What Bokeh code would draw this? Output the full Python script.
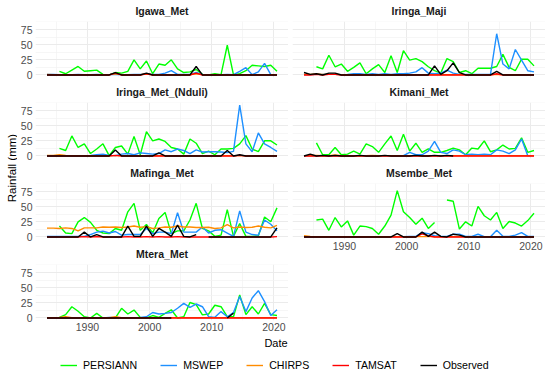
import math
import numpy as np
import pandas as pd
from bokeh.plotting import figure
from bokeh.layouts import row, column
from bokeh.models import (Range1d, FixedTicker, DatetimeAxis, LinearAxis, DatetimeTickFormatter,
                          Legend, LegendItem, Label, ColumnDataSource)
from bokeh.embed import file_html
from bokeh.resources import INLINE

nan = float("nan")
years = list(range(1983, 2021))
products = ["PERSIANN", "MSWEP", "CHIRPS", "TAMSAT", "Observed"]
product_colors = ["#00FF00", "#1E90FF", "#FF8C00", "#FF0000", "#000000"]
x_tick_years = [1990, 2000, 2010, 2020]
x_minor_years = [1985, 1995, 2005, 2015]
y_ticks = [0, 25, 50, 75]
y_minor = [12.5, 37.5, 62.5, 87.5]

# ---- Igawa_Met ----
igawa_persiann = [nan, nan, 6, 2, 8, 14, 6,
                  7, 8, 1, 0, 4, 3, 6, 25, 10, 23,
                  2, 18, 16, 25, 10, 4, 5, 9, 1, 0,
                  2, 0.5, 49, 0, 2, 7, 16, 15, 14, 16, 6]
igawa_mswep = [1, 1, 0.5, 0.5, 0.5, 1, 0.5,
               0.5, 1, 0.5, 0.5, 1, 0.5, 0.5, 1, 1, 1,
               1, 1, 3, 7, 1, 1, 1, 4, 1, 0.5,
               0.5, 0.5, 1, 0.5, 6, 12, 0.5, 5, 19, 0.5, 0.5]
igawa_chirps = [1, 0.5, 0.5, 0.5, 0.5, 0.5, 0.5,
                0.5, 0.5, 0.5, 0.5, 2, 0.5, 0.5, 0.5, 0.5, 1.5,
                0.5, 0.5, 0.5, 0.5, 0.5, 0.5, 0.5, 2, 0.5, 0.5,
                0.5, 0.5, 0.5, 0.5, 0.5, 0.5, 0.5, 0.5, 0.5, 0.5, 0.5]
igawa_tamsat = [0, 0, 0, 0, 0, 0, 0,
                0, 0, 0, 0, 3, 0, 0, 0, 0, 2,
                0, 0, 0, 0, 0, 0, 0, 3, 0, 0,
                0, 0, 0, 0, 0, 0, 0, 0, 0, 0, 0]
igawa_observed = [0, 0, 0, 0, 0, 0, 0,
                  0, 0, 0, 0, 4, 0, 0, 0, 0, 3,
                  0, 0, 0, 0, 0, 0, 0, 14, 0, 0,
                  0, 0, 0, 0, 0, 0, 0, 0, 0, 0, 0]

# ---- Iringa_Maji ----
maji_persiann = [nan, nan, 13.5, 10, 32.5, 13.5, 18,
                 6, 12.5, 20, 2, 10, 17, 4, 31.5, 4, 40,
                 24.5, 27, 22, 13.5, 7, 3, 27, 22, 4, 7,
                 2, 11, 11, 11, 14, 34, 12.5, 7, 26, 26, 15]
maji_mswep = [0.5, 0.5, 1, 1, 1, 1, 0.5,
              1, 2, 2, 1, 2, 1, 2, 1, 2, 2,
              3, 5, 12, 3, 2, 3, 8, 3, 1, 1,
              1, 1, 1, 1, 68, 18, 10, 42, 24.5, 7, 5]
maji_chirps = [1, 1, 1.5, 1, 1, 1, 0.5,
               0.5, 0.5, 0.5, 0.5, 0.5, 0.5, 0.5, 0.5, 0.5, 0.5,
               0.5, 0.5, 0.5, 0.5, 0.5, 0.5, 0.5, 0.5, 0.5, 0.5,
               0.5, 0.5, 0.5, 0.5, 0.5, 0.5, 0.5, 0.5, 0.5, 0.5, 0.5]
maji_tamsat = [0, 0, 1, 0, 1, 1, 0,
               0, 0, 0, 0, 0, 0, 0, 0, 0, 0,
               0, 0, 0, 0, 0, 0, 0, 0, 0, 0,
               0, 0, 0, 0, 2, 0, 0, 0, 0, 0, 0]
maji_observed = [4, 1, 2, 0, 3, 3, 0,
                 0, 0, 0, 0, 0, 0, 0, 0, 0, 0,
                 0, 0, 0, 0, 15, 1, 7, 20, 4, 0,
                 0, 0, 0, 0, 6, 0, 0, 0, 0, 0, 0]

# ---- Iringa_Met_(Nduli) ----
nduli_persiann = [nan, nan, 12.5, 9, 33, 14, 20,
                  4, 11.5, 20, 0.5, 14, 16.5, 3, 32, 2, 40,
                  25, 28, 24, 14, 11.5, 3, 28, 21, 4, 8,
                  2, 11.5, 11.5, 12.5, 20, 33.5, 11.5, 7, 25, 25, 18]
nduli_mswep = [0.5, 0.5, 0.5, 0.5, 0.5, 0.5, 0.5,
               1, 2, 3, 1, 0.5, 3, 4, 2, 5, 4,
               3, 4, 10, 7, 11.5, 9, 4, 10, 6.5, 7,
               7, 6.5, 5.5, 7.5, 84, 20, 7, 38, 20, 14, 7.5]
nduli_chirps = [1, 1, 2, 1, 0.5, 0.5, 0.5,
                0.5, 0.5, 0.5, 0.5, 0.5, 0.5, 0.5, 0.5, 0.5, 0.5,
                0.5, 0.5, 0.5, 0.5, 0.5, 0.5, 0.5, 0.5, 0.5, 0.5,
                0.5, 0.5, 0.5, 0.5, 0.5, 0.5, 0.5, 0.5, 0.5, 0.5, 0.5]
nduli_tamsat = [0, 0, 0, 0, 0, 0, 0,
                0, 0, 0, 0, 1, 0, 0, 0, 0, 0,
                0, 0, 0, 0, 0, 0, 0, 0, 0, 0,
                0, 0, 0, 0, 1, 0, 0, 0, 0, 0, 0]
nduli_observed = [0, 0, 0, 0, 0, 0, 0,
                  0, 0, 0, 0, 10, 0, 0, 0, 0, 0,
                  0, 5, 0, 0, 0, 0, 0, 0, 0, 0,
                  0, 0, 9, 0, 2, 0, 0, 0, 0, 0, 0]

# ---- Kimani_Met ----
kimani_persiann = [nan, nan, 21.5, 2, 2, 14, 2,
                   3, 8, 3, 20, 15.5, 6, 20, 33, 9, 36,
                   8, 21, 6, 11.5, 6, 6, 9, 13, 10, 2,
                   13, 11.5, 25, 7, 10, 18, 11.5, 12.5, 30, 6, 9]
kimani_mswep = [0.5, 0.5, 0.5, 0.5, 0.5, 0.5, 0.5,
                0.5, 0.5, 0.5, 0.5, 0.5, 0.5, 0.5, 0.5, 0.5, 0.5,
                6, 2, 2, 8, 24, 6, 4, 10, 8, 2,
                3, 2, 3, 2, 10, 8, 4, 10, 28, 0.5, 0.5]
kimani_chirps = [0.5, 0.5, 1, 0.5, 0.5, 1.5, 0.5,
                 0.5, 0.5, 0.5, 0.5, 1, 0.5, 0.5, 0.5, 0.5, 0.5,
                 0.5, 0.5, 0.5, 0.5, 0.5, 0.5, 0.5, 0.5, 0.5, 0.5,
                 0.5, 0.5, 0.5, 0.5, 0.5, 0.5, 0.5, 0.5, 0.5, 0.5, 0.5]
kimani_tamsat = [0, 0, 0, 0, 0, 0, 0,
                 0, 0, 0, 0, 0, 0, 0, 0, 0, 0,
                 0, 0, 0, 0, 0, 0, 0, 0, 0, 0,
                 0, 0, 0, 0, 0, 0, 0, 0, 0, 0, 0]
kimani_observed = [0, 3, 0, 1, 0, 1, 0,
                   0, 0, 1, 0, 0, 0, 1, 0, 0, 0,
                   0, 1, 0, 0, 1, 0, 1, 0, nan, nan,
                   nan, nan, nan, nan, nan, nan, nan, nan, nan, nan, nan]

# ---- Mafinga_Met ----
mafinga_persiann = [nan, nan, 18, 6.5, 5.5, 25, 32,
                    24, 11, 6.5, 5.5, 14, 11, 41.5, 55.5, 11, 20.5,
                    6.5, 30.5, 40.5, 5.5, 10, 10, 28, 55.5, 14, 10,
                    1, 3, 45, 1, 22, 1, 1, 2, 33, 25, 48]
mafinga_mswep = [1, 1, 1, 1, 1, 1, 1,
                 4, 8, 9.5, 6.5, 9, 3, 4, 4, 4, 14,
                 5.5, 8, 8, 5.5, 40, 8, 8, 8, 16.5, 6.5,
                 11, 12, 6.5, 1, 43, 8, 4, 3, 28, 21, 10]
mafinga_chirps = [14.5, 14.5, 14, 15, 14, 10, 15,
                  15, 15, 16.5, 16, 16.5, 15.5, 16.5, 18, 16, 17,
                  14, 15, 16.5, 16, 18, 16.5, 16.5, 15.5, 15.5, 16,
                  14, 15, 20.5, 15, 16.5, 15.5, 16, 18, 16, 15, 19]
mafinga_tamsat = [0, 0, 0, 0, 0, 0, 0.5,
                  0, 0.5, 0, 0, 0, 0, 0.5, 0, 0, 0.5,
                  0, 0.5, 0, 0, 0.5, 0, 0, 0, 0, 0,
                  0, 0, 0, 0, 0, 0, 0, 0, 0, 0, 0.5]
mafinga_observed = [0, 0, 0, 0, 0, 0, 8,
                    0, 4, 0, 0, 0, 0, 18, 1, 1, 18,
                    1, 14, 8, 1, 19.5, 1, 0, 4, nan, 0,
                    0, 0, 0, 0, 0, 0, 0, 0, 0, 0, 15]

# ---- Msembe_Met ----
msembe_persiann = [nan, nan, 28, 29.5, 11, 32, 16.5,
                   26.5, 3, 18, 17, 14, 4.5, 18, 36, 76.5, 41.5,
                   32, 21, 31, 14, 24, nan, 61, 59, 13, 25,
                   18, 50.5, 35, 28, 40.5, 14, 25.5, 23, 18, 27, 39]
msembe_mswep = [0.5, 0.5, 0.5, 0.5, 0.5, 0.5, 0.5,
                0.5, 0.5, 0.5, 0.5, 0.5, 0.5, 0.5, 0.5, 0.5, 0.5,
                1, 1, 7, 5.5, 2, 1, 1, 4.5, 4.5, 1,
                1, 4.5, 0.5, 0.5, 11, 1, 1, 3, 7, 1, 1]
msembe_chirps = [2, 1, 0.5, 0.5, 0.5, 0.5, 0.5,
                 0.5, 0.5, 0.5, 0.5, 0.5, 0.5, 0.5, 0.5, 0.5, 0.5,
                 0.5, 0.5, 0.5, 0.5, 0.5, 0.5, 0.5, 0.5, 0.5, 0.5,
                 0.5, 0.5, 0.5, 0.5, 0.5, 0.5, 0.5, 0.5, 0.5, 0.5, 0.5]
msembe_tamsat = [0, 0, 0, 0, 0, 0, 0,
                 0, 0, 0, 0, 0, 0, 0, 0, 0, 0,
                 0, 0, 5, 2, 0, 0, 0, 0, 0, 0,
                 0, 0, 0, 0, 0, 0, 0, 0, 0, 0, 0]
msembe_observed = [0, 0, 0, 0, 0, 0, 0,
                   0, 0, 0, 0, 0, 0, 0, 0, 5.5, 0,
                   0, 0, 8, 1, 8, 1, 0, 4.5, 3, 0,
                   0, 0, 0, 0, 0, 0, 0, 0, 0, 0, 0]

# ---- Mtera_Met ----
mtera_persiann = [nan, nan, 1, 5.5, 18.5, 11, 2,
                  0, 7.5, 0, 0, 0, 16, 6.5, 13, 1, 0,
                  4, 1, 7.5, 13.5, 0, 2, 25.5, 22, 5, 6.5,
                  21, 18.5, 2, 2, 38, 5.5, 18.5, 6.5, 24, 5.5, 4]
mtera_mswep = [0, 0, 0, 0, 0, 0, 0,
               0, 0, 0, 1, 0.5, 0.5, 0.5, 0.5, 1, 2,
               9, 6.5, 7.5, 9, 16, 24, 17.5, 23, 18.5, 2,
               1, 10.5, 2, 9, 35.5, 10.5, 33, 45, 27, 4, 13.5]
mtera_chirps = [0.5, 0.5, 1, 2, 0.5, 0.5, 0.5,
                0.5, 0.5, 0.5, 0.5, 2, 0.5, 0.5, 0.5, 0.5, 0.5,
                0.5, 0.5, 0.5, 0.5, 0.5, 0.5, 0.5, 0.5, 0.5, 0.5,
                0.5, 0.5, 0.5, 0.5, 0.5, 0.5, 0.5, 0.5, 0.5, 0.5, 0.5]
mtera_tamsat = [0, 0, 0, 0, 0, 0, 0,
                0, 0, 0, 0, 0, 0, 0, 0, 0, 0,
                0, 0, 0, 0, 0, 0, 0, 0, 0, 0,
                0, 0, 0, 0, 0, 0, 0, 0, 0, 0, 0]
mtera_observed = [0, 0, 0, 0, 0, 0, 0,
                  0, 0, 0, 0, 0, 0, 0, 0, 0, 0,
                  0, 0, 0, 0, nan, nan, nan, nan, nan, nan,
                  nan, nan, 0, 8, nan, nan, nan, nan, nan, nan, nan]

stations = {
    "Igawa_Met": [igawa_persiann, igawa_mswep, igawa_chirps, igawa_tamsat, igawa_observed],
    "Iringa_Maji": [maji_persiann, maji_mswep, maji_chirps, maji_tamsat, maji_observed],
    "Iringa_Met_(Nduli)": [nduli_persiann, nduli_mswep, nduli_chirps, nduli_tamsat, nduli_observed],
    "Kimani_Met": [kimani_persiann, kimani_mswep, kimani_chirps, kimani_tamsat, kimani_observed],
    "Mafinga_Met": [mafinga_persiann, mafinga_mswep, mafinga_chirps, mafinga_tamsat, mafinga_observed],
    "Msembe_Met": [msembe_persiann, msembe_mswep, msembe_chirps, msembe_tamsat, msembe_observed],
    "Mtera_Met": [mtera_persiann, mtera_mswep, mtera_chirps, mtera_tamsat, mtera_observed],
}

FONT = "Liberation Sans"
dates = pd.to_datetime([f"{y}-07-01" for y in years])
span = dates[-1] - dates[0]
x0 = (dates[0] - 0.05 * span).to_pydatetime()
x1 = (dates[-1] + 0.05 * span).to_pydatetime()
ymax = max(v for s in stations.values() for ser in s for v in ser if not math.isnan(v))
y0, y1 = -0.05 * ymax, 1.05 * ymax


def ms(y):
    return pd.Timestamp(f"{y}-01-01").value / 1e6


xticker = FixedTicker(ticks=[ms(y) for y in x_tick_years], minor_ticks=[ms(y) for y in x_minor_years])
yticker = FixedTicker(ticks=y_ticks, minor_ticks=y_minor)


def style_axis(ax, standoff):
    ax.axis_line_color = None
    ax.major_tick_line_color = None
    ax.minor_tick_line_color = None
    ax.major_tick_out = 0
    ax.major_tick_in = 0
    ax.minor_tick_out = 0
    ax.minor_tick_in = 0
    ax.major_label_standoff = standoff
    ax.major_label_text_font = FONT
    ax.major_label_text_font_size = "10.5px"
    ax.major_label_text_color = "#4D4D4D"


def panel(name, width, height, lb, tb, bb, yaxis=False, xaxis=False):
    p = figure(width=width, height=height, x_axis_type="datetime",
               x_range=Range1d(x0, x1), y_range=Range1d(y0, y1),
               x_axis_location=None, y_axis_location=None,
               output_backend="svg", toolbar_location=None,
               min_border_left=lb, min_border_right=0, min_border_top=tb, min_border_bottom=bb,
               background_fill_color="white", border_fill_color="white", outline_line_color=None)
    p.title.text = name
    p.title.align = "center"
    p.title.vertical_align = "top"
    p.title.text_font = FONT
    p.title.text_font_size = "10.5px"
    p.title.text_font_style = "bold"
    p.title.text_color = "#1A1A1A"
    p.title.standoff = 6
    p.xgrid.ticker = xticker
    p.ygrid.ticker = yticker
    for g in p.grid:
        g.grid_line_color = "#EBEBEB"
        g.grid_line_width = 1
        g.minor_grid_line_color = "#F2F2F2"
        g.minor_grid_line_width = 0.7
    if yaxis:
        ax = LinearAxis(ticker=yticker)
        style_axis(ax, 3)
        p.add_layout(ax, "left")
    if xaxis:
        ax = DatetimeAxis(ticker=xticker, formatter=DatetimeTickFormatter(years="%Y", months="%Y", days="%Y"))
        style_axis(ax, 2)
        p.add_layout(ax, "below")
    for prod, col, vals in zip(products, product_colors, stations[name]):
        src = ColumnDataSource(dict(date=dates, value=np.array(vals, dtype=float)))
        p.line("date", "value", source=src, line_color=col, line_width=1.4)
    return p


LW, RW = 271, 257
igawa = panel("Igawa_Met", LW, 81, 17, 21, 4, yaxis=True)
nduli = panel("Iringa_Met_(Nduli)", LW, 81, 17, 21, 4, yaxis=True)
mafinga = panel("Mafinga_Met", LW, 81, 17, 21, 4, yaxis=True)
mtera = panel("Mtera_Met", LW, 93, 17, 21, 16, yaxis=True, xaxis=True)
maji = panel("Iringa_Maji", RW, 81, 4, 21, 4)
kimani = panel("Kimani_Met", RW, 81, 4, 21, 4)
msembe = panel("Msembe_Met", RW, 97, 4, 21, 20, xaxis=True)

TOPH = 81 + 81 + 81 + 93
YLW = 17
ylab = figure(width=YLW, height=TOPH, x_range=Range1d(0, YLW), y_range=Range1d(0, TOPH),
              x_axis_location=None, y_axis_location=None, output_backend="svg", toolbar_location=None,
              min_border=0, outline_line_color=None)
ylab.grid.visible = False
ylab.add_layout(Label(x=11, y=TOPH - 167.5, text="Rainfall (mm)", angle=math.pi / 2, text_align="center",
                      text_baseline="middle", text_font=FONT, text_font_size="11.5px", text_color="#000000"))

BW, BH = 550, 375 - TOPH
bottom = figure(width=BW, height=BH, x_range=Range1d(0, BW), y_range=Range1d(0, BH),
                x_axis_location=None, y_axis_location=None, output_backend="svg", toolbar_location=None,
                min_border=0, outline_line_color=None)
bottom.grid.visible = False
bottom.add_layout(Label(x=275.5, y=BH - 6, text="Date", text_align="center", text_baseline="middle",
                        text_font=FONT, text_font_size="11px", text_color="#000000"))
items = []
for prod, col in zip(products, product_colors):
    r = bottom.line(x=np.array([nan]), y=np.array([nan]), line_color=col, line_width=1.4)
    items.append(LegendItem(label=prod, renderers=[r]))
legend = Legend(items=items, orientation="horizontal", location=(60, 4),
                spacing=23, label_standoff=6, glyph_width=17, glyph_height=12, label_height=12,
                padding=0, margin=0, border_line_color=None, background_fill_alpha=0,
                label_text_font=FONT, label_text_font_size="10.6px", label_text_color="#000000")
bottom.add_layout(legend, "center")

layout = column(row(ylab, column(igawa, nduli, mafinga, mtera), column(maji, kimani, msembe)), bottom)

open("out.html", "w").write(file_html(layout, INLINE))
